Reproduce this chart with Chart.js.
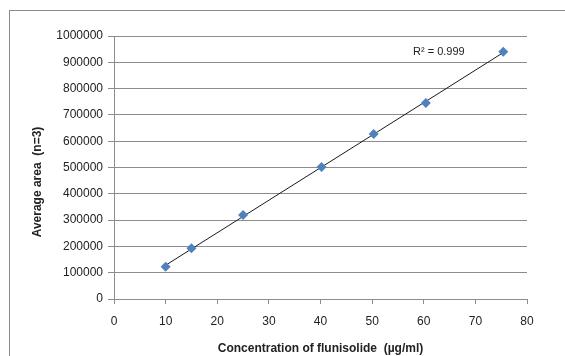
<!DOCTYPE html>
<html>
<head>
<meta charset="utf-8">
<script src="https://cdn.jsdelivr.net/npm/chart.js@4.4.1/dist/chart.umd.min.js"></script>
<style>
  html, body { margin: 0; padding: 0; background: #fff; overflow: hidden; }
  canvas { display: block; }
</style>
</head>
<body>
<canvas id="chart" width="565" height="356"></canvas>
<script>
// Calibration data
var concentrations = [ 10, 15, 25, 40.2, 50.3, 60.4, 75.4 ];
var avgAreas = [ 122800, 193000, 319000, 502000, 627000, 745000, 940000 ];
var rSquaredLabel = "R\u00b2 = 0.999";
var yTitle = "Average area  (n=3)";
var xTitle = "Concentration of flunisolide  (\u00b5g/ml)";

var font = "'Liberation Sans', 'DejaVu Sans', sans-serif";

// Least squares fit for the trendline, from the data above
var n = concentrations.length,
	sx = 0, sy = 0, sxy = 0, sxx = 0;
for ( var i = 0; i < n; i++ ) {
	sx += concentrations[ i ];
	sy += avgAreas[ i ];
	sxy += concentrations[ i ] * avgAreas[ i ];
	sxx += concentrations[ i ] * concentrations[ i ];
}
var slope = ( n * sxy - sx * sy ) / ( n * sxx - sx * sx ),
	intercept = ( sy - slope * sx ) / n,
	xMin = Math.min.apply( null, concentrations ),
	xMax = Math.max.apply( null, concentrations );

var trendPoints = [
	{ x: xMin, y: slope * xMin + intercept },
	{ x: xMax, y: slope * xMax + intercept }
];

var points = concentrations.map( function( c, idx ) {
	return { x: c, y: avgAreas[ idx ] };
} );

// Frame around the chart object, y title and the R² note
var extras = {
	id: "extras",
	beforeDraw: function( chart ) {
		var ctx = chart.ctx;
		ctx.save();
		ctx.fillStyle = "#fff";
		ctx.fillRect( 0, 0, chart.width, chart.height );
		ctx.strokeStyle = "#8c8c8c";
		ctx.lineWidth = 1;
		ctx.strokeRect( 9.5, 10.5, 700, 500 );
		ctx.restore();
	},
	afterDraw: function( chart ) {
		var ctx = chart.ctx;
		ctx.save();
		ctx.fillStyle = "#222";
		ctx.font = "11px " + font;
		ctx.textBaseline = "middle";
		ctx.textAlign = "left";
		ctx.fillText( rSquaredLabel, 413, 52 );

		// y title sits a bit below the plot centre, like the original
		ctx.translate( 38, 182 );
		ctx.rotate( -Math.PI / 2 );
		ctx.textAlign = "center";
		ctx.font = "bold 12px " + font;
		ctx.fillText( yTitle, 0, 0 );
		ctx.restore();
	}
};

new Chart( document.getElementById( "chart" ), {
	type: "scatter",
	data: {
		datasets: [
			{
				label: "Trend",
				type: "line",
				data: trendPoints,
				borderColor: "#1a1a1a",
				borderWidth: 1,
				pointRadius: 0,
				fill: false,
				order: 2
			},
			{
				label: "Average area",
				data: points,
				pointStyle: "rectRot",
				pointRadius: 5,
				backgroundColor: "#4f81bd",
				borderColor: "#4f81bd",
				borderWidth: 0,
				order: 1
			}
		]
	},
	options: {
		responsive: false,
		animation: false,
		events: [],
		layout: { padding: { left: 0, right: 38, top: 36, bottom: 0 } },
		plugins: {
			legend: { display: false },
			tooltip: { enabled: false }
		},
		scales: {
			x: {
				type: "linear",
				min: 0,
				max: 80,
				ticks: { stepSize: 10, autoSkip: false, maxRotation: 0, color: "#222", font: { family: font, size: 12 }, padding: 10 },
				grid: { display: true, drawOnChartArea: false, color: "#8c8c8c", tickLength: 5 },
				border: { color: "#8c8c8c" },
				title: {
					display: true,
					text: xTitle,
					color: "#222",
					font: { family: font, size: 12, weight: "bold" },
					padding: { top: 6, bottom: 0 }
				},
				afterFit: function( scale ) { scale.height = 57; }
			},
			y: {
				min: 0,
				max: 1000000,
				ticks: {
					stepSize: 100000,
					autoSkip: false,
					color: "#222",
					font: { family: font, size: 12 },
					padding: 5,
					callback: function( v ) { return String( v ); }
				},
				grid: { color: "#8c8c8c", tickLength: 6 },
				border: { color: "#8c8c8c" },
				title: { display: false },
				afterFit: function( scale ) { scale.width = 114; }
			}
		}
	},
	plugins: [ extras ]
} );
</script>
</body>
</html>
